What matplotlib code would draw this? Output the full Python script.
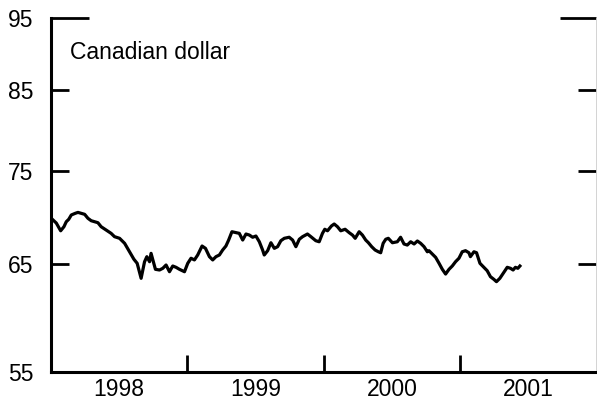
import numpy as np
import matplotlib.pyplot as plt
from matplotlib.ticker import FixedLocator, NullFormatter

plt.rcParams['font.family'] = ['Liberation Sans', 'DejaVu Sans']

# time in decimal years, US cents per Canadian dollar
years = np.array([
    1998.002, 1998.039, 1998.071, 1998.095, 1998.112, 1998.130, 1998.149, 1998.178,
    1998.198, 1998.222, 1998.247, 1998.271, 1998.295, 1998.320, 1998.344, 1998.368,
    1998.405, 1998.441, 1998.466, 1998.503, 1998.540, 1998.576, 1998.608, 1998.632,
    1998.661, 1998.686, 1998.703, 1998.723, 1998.734, 1998.747, 1998.766, 1998.796,
    1998.820, 1998.844, 1998.869, 1998.893, 1998.917, 1998.942, 1998.979, 1999.003,
    1999.027, 1999.052, 1999.076, 1999.108, 1999.133, 1999.162, 1999.186, 1999.210,
    1999.235, 1999.259, 1999.283, 1999.303, 1999.327, 1999.357, 1999.381, 1999.406,
    1999.430, 1999.455, 1999.479, 1999.503, 1999.528, 1999.552, 1999.564, 1999.589,
    1999.613, 1999.638, 1999.662, 1999.686, 1999.711, 1999.747, 1999.772, 1999.796,
    1999.821, 1999.845, 1999.881, 1999.906, 1999.942, 1999.967, 1999.991, 2000.008,
    2000.028, 2000.057, 2000.077, 2000.101, 2000.125, 2000.157, 2000.187, 2000.211,
    2000.231, 2000.260, 2000.284, 2000.308, 2000.328, 2000.352, 2000.377, 2000.401,
    2000.418, 2000.436, 2000.455, 2000.474, 2000.504, 2000.540, 2000.564, 2000.589,
    2000.613, 2000.638, 2000.663, 2000.687, 2000.711, 2000.736, 2000.760, 2000.772,
    2000.797, 2000.821, 2000.846, 2000.870, 2000.894, 2000.919, 2000.943, 2000.967,
    2000.992, 2001.016, 2001.040, 2001.065, 2001.076, 2001.102, 2001.121, 2001.146,
    2001.175, 2001.199, 2001.223, 2001.248, 2001.267, 2001.292, 2001.316, 2001.346,
    2001.370, 2001.389, 2001.406, 2001.424, 2001.439,
])
cad = np.array([
    69.73, 69.22, 68.40, 68.83, 69.36, 69.62, 70.09, 70.27,
    70.37, 70.27, 70.16, 69.73, 69.47, 69.36, 69.26, 68.83,
    68.48, 68.13, 67.78, 67.61, 67.09, 66.22, 65.46, 65.05,
    63.56, 65.20, 65.72, 65.21, 66.06, 65.39, 64.45, 64.38,
    64.55, 64.88, 64.21, 64.78, 64.65, 64.45, 64.21, 65.05,
    65.56, 65.39, 65.89, 66.81, 66.57, 65.72, 65.39, 65.72,
    65.89, 66.40, 66.81, 67.43, 68.30, 68.20, 68.13, 67.43,
    68.06, 67.95, 67.72, 67.85, 67.25, 66.40, 65.89, 66.33,
    67.15, 66.57, 66.74, 67.36, 67.61, 67.72, 67.43, 66.74,
    67.51, 67.78, 68.06, 67.78, 67.36, 67.25, 68.13, 68.56,
    68.40, 68.91, 69.12, 68.83, 68.40, 68.56, 68.20, 67.95,
    67.61, 68.30, 67.95, 67.43, 67.15, 66.74, 66.40, 66.22,
    66.12, 67.09, 67.51, 67.61, 67.15, 67.25, 67.72, 67.02,
    66.91, 67.25, 67.02, 67.33, 67.09, 66.74, 66.22, 66.33,
    65.99, 65.65, 65.05, 64.45, 63.98, 64.45, 64.78, 65.21,
    65.56, 66.22, 66.33, 66.12, 65.72, 66.22, 66.12, 65.05,
    64.65, 64.31, 63.72, 63.46, 63.23, 63.56, 64.05, 64.65,
    64.55, 64.38, 64.65, 64.55, 64.78,
])

y_ticks = [55, 65, 75, 85, 95]
year_labels = ['1998', '1999', '2000', '2001']
year_bounds = [1999, 2000, 2001]

fig = plt.figure(figsize=(5.97, 4.04), dpi=100)
ax = fig.add_axes([0.0854, 0.0792, 0.9136, 0.8762])

ax.plot(years, cad, color='black', lw=2.3, solid_joinstyle='round')

ax.set_yscale('log')
ax.set_ylim(55, 95)
ax.set_xlim(1998, 2002)

ax.yaxis.set_major_locator(FixedLocator(y_ticks))
ax.yaxis.set_minor_locator(FixedLocator([]))
ax.set_yticklabels([str(v) for v in y_ticks])
ax.yaxis.set_minor_formatter(NullFormatter())
ax.tick_params(axis='y', which='major', direction='in', left=True, right=True,
               length=13, width=2, labelsize=16.5, pad=12.5)

# long ticks at the top value
for t in ax.yaxis.get_major_ticks():
    if abs(t.get_loc() - 95) < 1e-6:
        t.tick1line.set_markersize(27)
        t.tick2line.set_markersize(26)

ax.xaxis.set_major_locator(FixedLocator(year_bounds))
ax.xaxis.set_major_formatter(NullFormatter())
ax.xaxis.set_minor_locator(FixedLocator([1998.5, 1999.5, 2000.5, 2001.5]))
ax.set_xticklabels(year_labels, minor=True)
ax.tick_params(axis='x', which='major', direction='in', length=12, width=2)
ax.tick_params(axis='x', which='minor', length=0, labelsize=16.5, pad=4)

for side in ['left', 'bottom']:
    ax.spines[side].set_linewidth(2.2)
ax.spines['top'].set_visible(False)
ax.spines['right'].set_linewidth(0.6)
ax.spines['right'].set_color('#cccccc')

ax.text(0.035, 0.904, 'Canadian dollar', transform=ax.transAxes,
        fontsize=16.5, va='center', ha='left')

fig.savefig('out.png', dpi=100)
